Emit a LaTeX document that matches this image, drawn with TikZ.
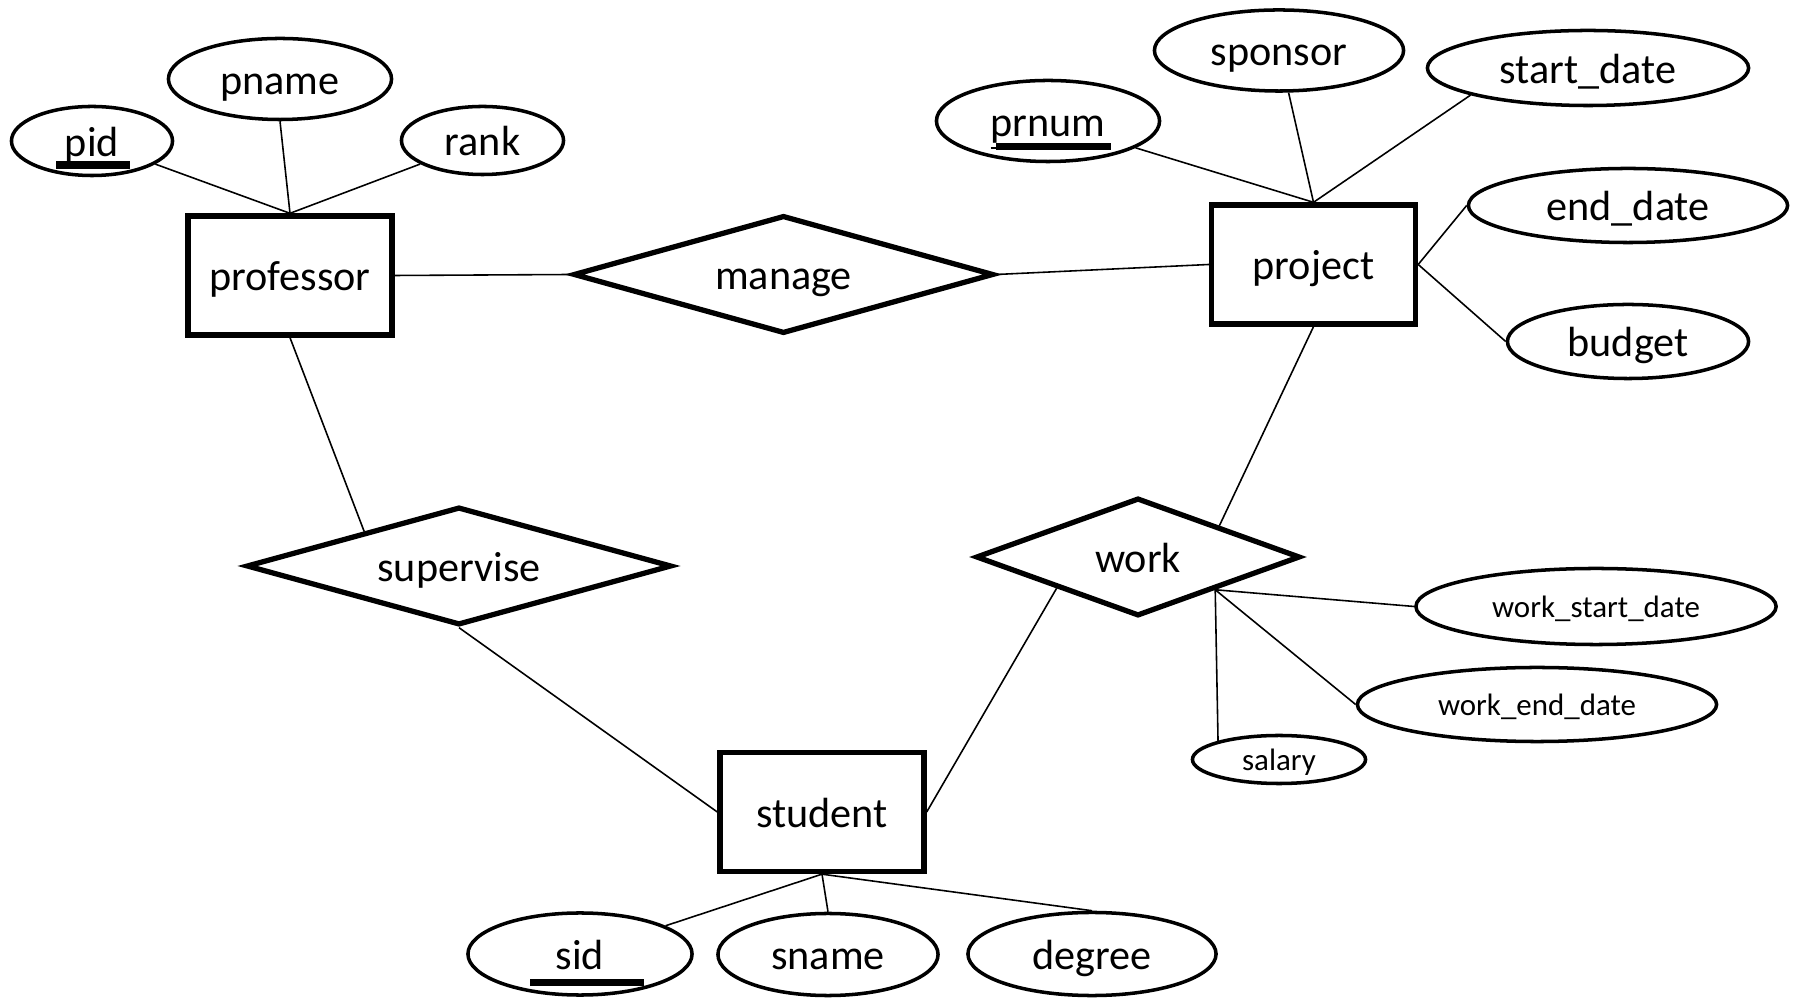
\documentclass[tikz,border=0pt]{standalone}
\usepackage{fontspec}
\setmainfont{Carlito}
\usetikzlibrary{shapes.geometric}

\begin{document}
\begin{tikzpicture}[x=0.01cm, y=-0.01cm,
    every node/.style={inner sep=0pt, font=\fontsize{12}{14}\selectfont, text height=0.336cm, text depth=0.034cm},
    small/.style={font=\fontsize{8.8}{10}\selectfont, text height=0.248cm, text depth=0.025cm},
    entity/.style={draw, line width=1.5pt, minimum width=2.04cm, minimum height=1.19cm},
    relation/.style={draw, diamond, aspect=3.5, line width=1.5pt, minimum width=#1, minimum height=1.18cm},
    attrib/.style 2 args={draw, ellipse, line width=1pt, minimum width=#1, minimum height=#2},
    conn/.style={line width=0.45pt},
    keybar/.style={line width=2.1pt}]
  %er diagram
  \useasboundingbox (0,0) rectangle (1800,998);

  % entities and relations
  \node[entity] (professor) at (290,275.5) {professor};
  \node[entity] (project) at (1313.5,264.5) {project};
  \node[entity] (student) at (822,812) {student};
  \node[relation=4.2cm] (manage) at (783.5,274.5) {manage};
  \node[relation=4.25cm] (supervise) at (459,566) {supervise};
  \node[relation=3.24cm] (work) at (1138,557) {work};

  % attributes
  \node[attrib={1.61cm}{0.69cm}] (pid) at (92,141) {pid};
  \node[attrib={2.23cm}{0.81cm}] (pname) at (280,79) {pname};
  \node[attrib={1.62cm}{0.68cm}] (rank) at (482.5,140.5) {rank};
  \node[attrib={2.23cm}{0.81cm}] (prnum) at (1048,121) {\underline{prnum}};
  \node[attrib={2.49cm}{0.81cm}] (sponsor) at (1279,50.5) {sponsor};
  \node[attrib={3.21cm}{0.75cm}] (startdate) at (1588,68) {start\_date};
  \node[attrib={3.19cm}{0.74cm}] (enddate) at (1628,205.5) {end\_date};
  \node[attrib={2.41cm}{0.74cm}] (budget) at (1628,341.5) {budget};
  \node[attrib={3.60cm}{0.76cm}, small] (wsd) at (1596,606.5) {work\_start\_date};
  \node[attrib={3.59cm}{0.74cm}, small] (wed) at (1537,704.5) {work\_end\_date};
  \node[attrib={1.73cm}{0.48cm}, small] (salary) at (1279,759.5) {salary};
  \node[attrib={2.24cm}{0.82cm}] (sid) at (580,954) {sid};
  \node[attrib={2.20cm}{0.82cm}] (sname) at (828,954.5) {sname};
  \node[attrib={2.48cm}{0.83cm}] (degree) at (1092,954) {degree};

  % key bars
  \draw[keybar] ([shift={(-36,24)}]pid.center) -- ([shift={(38,24)}]pid.center);
  \draw[keybar] ([shift={(-52,25.7)}]prnum.center) -- ([shift={(63,25.7)}]prnum.center);
  \draw[keybar] ([shift={(-50,28.5)}]sid.center) -- ([shift={(64,28.5)}]sid.center);

  % links
  \draw[conn] (professor.north) -- (pid);
  \draw[conn] (professor.north) -- (pname.south);
  \draw[conn] (professor.north) -- (rank);
  \draw[conn] (professor.east) -- (manage.west);
  \draw[conn] (manage.east) -- (project.west);
  \draw[conn] (project.north) -- (prnum);
  \draw[conn] (project.north) -- (sponsor);
  \draw[conn] (project.north) -- (startdate.193);
  \draw[conn] (project.east) -- (enddate.west);
  \draw[conn] (project.east) -- (budget.west);
  \draw[conn] (professor.south) -- (supervise.160);
  \draw[conn] (supervise.south) -- (student.west);
  \draw[conn] (student.east) -- (work.201);
  \draw[conn] (work.21) -- (project.south);
  \coordinate (wa) at (work.337);
  \draw[conn] (wa) -- (wsd.west);
  \draw[conn] (wa) -- (wed.west);
  \draw[conn] (wa) -- (salary.163);
  \draw[conn] (student.south) -- (sid);
  \draw[conn] (student.south) -- (sname.north);
  \draw[conn] (student.south) -- (degree.north);
\end{tikzpicture}
\end{document}
